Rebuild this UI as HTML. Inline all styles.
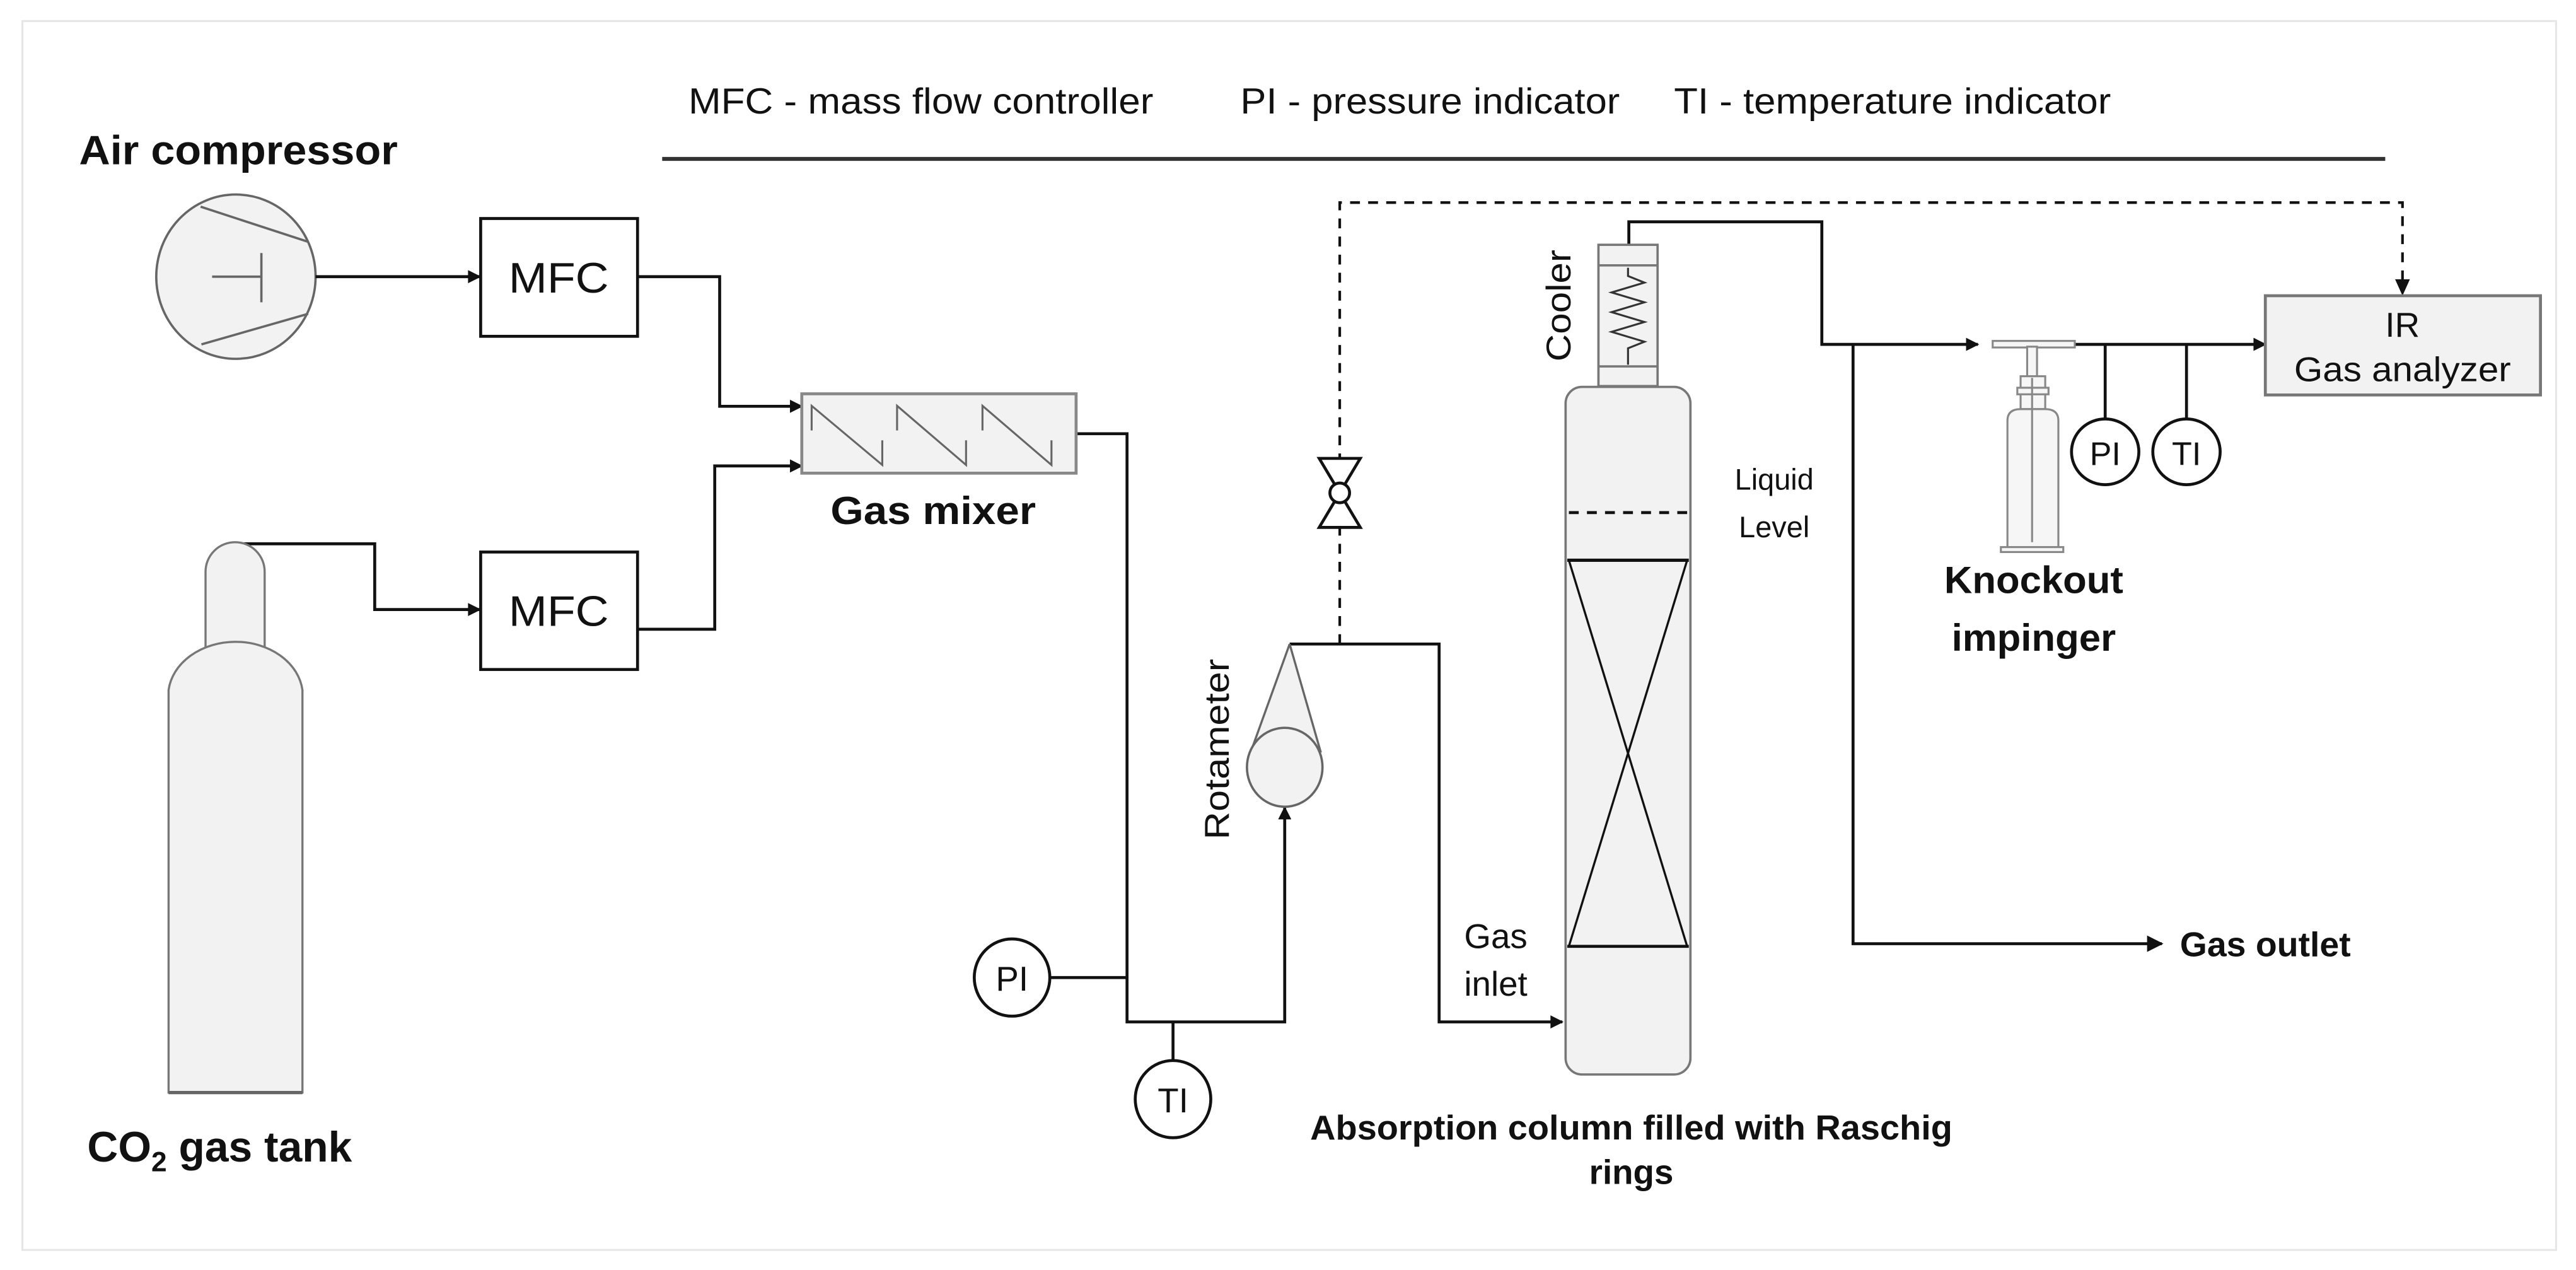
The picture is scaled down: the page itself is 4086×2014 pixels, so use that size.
<!DOCTYPE html>
<html><head><meta charset="utf-8"><style>
html,body{margin:0;padding:0;background:#fff;}
svg{display:block;}
text{font-family:"Liberation Sans",Arial,sans-serif;fill:#111;}
.b{font-weight:bold;}
</style></head><body>
<svg width="4086" height="2014" viewBox="0 0 1568 773" xmlns="http://www.w3.org/2000/svg">
<defs>
<marker id="ar" viewBox="0 0 10 10" refX="9" refY="5" markerWidth="9" markerHeight="8" markerUnits="userSpaceOnUse" orient="auto"><path d="M0,0 L10,5 L0,10 z" fill="#111"/></marker>
<marker id="ar2" viewBox="0 0 10 10" refX="9" refY="5" markerWidth="10" markerHeight="10" markerUnits="userSpaceOnUse" orient="auto"><path d="M0,0 L10,5 L0,10 z" fill="#111"/></marker>
</defs>
<rect x="13.5" y="12.8" width="1542.5" height="748" fill="#fff" stroke="#e6e6e6" stroke-width="1.2"/>

<!-- legend -->
<text x="419" y="69" font-size="22" textLength="283" lengthAdjust="spacingAndGlyphs">MFC - mass flow controller</text>
<text x="755" y="69" font-size="22" textLength="231" lengthAdjust="spacingAndGlyphs">PI - pressure indicator</text>
<text x="1019" y="69" font-size="22" textLength="266" lengthAdjust="spacingAndGlyphs">TI - temperature indicator</text>
<line x1="403" y1="96.7" x2="1452" y2="96.7" stroke="#333" stroke-width="2.4"/>

<!-- air compressor -->
<text class="b" x="48" y="100" font-size="25" textLength="194" lengthAdjust="spacingAndGlyphs">Air compressor</text>
<ellipse cx="143.5" cy="168.4" rx="48.5" ry="50" fill="#f2f2f2" stroke="#666" stroke-width="1.4"/>
<line x1="122" y1="125.8" x2="187.5" y2="147.2" stroke="#666" stroke-width="1.4"/>
<line x1="122.5" y1="209.6" x2="187.5" y2="191" stroke="#666" stroke-width="1.4"/>
<line x1="129" y1="168.4" x2="159" y2="168.4" stroke="#666" stroke-width="1.4"/>
<line x1="159" y1="154" x2="159" y2="184" stroke="#666" stroke-width="1.4"/>

<g stroke="#111" stroke-width="1.8" fill="none">
<line x1="192" y1="168.4" x2="292" y2="168.4" marker-end="url(#ar)"/>
<polyline points="388,168.4 438,168.4 438,247.3 488,247.3" marker-end="url(#ar)"/>
<polyline points="388,383 435,383 435,283.6 488,283.6" marker-end="url(#ar)"/>
<polyline points="144,331 228,331 228,371 292,371" marker-end="url(#ar)"/>
<polyline points="655,264 686,264 686,622 782,622 782,491.5" marker-end="url(#ar)"/>
<line x1="639" y1="595" x2="686" y2="595"/>
<line x1="714" y1="622" x2="714" y2="646"/>
<polyline points="785,392 876,392 876,622 951,622" marker-end="url(#ar)"/>
<polyline points="991.5,149 991.5,135 1109,135 1109,209.6 1204,209.6" marker-end="url(#ar)"/>
<polyline points="1128,209.6 1128,574.4 1316,574.4" marker-end="url(#ar2)"/>
<line x1="1263" y1="209.6" x2="1379" y2="209.6" marker-end="url(#ar)"/>
<line x1="1281.5" y1="209.6" x2="1281.5" y2="255"/>
<line x1="1331" y1="209.6" x2="1331" y2="255"/>
</g>

<!-- MFC boxes -->
<rect x="292.5" y="133" width="95.5" height="71.7" fill="#fff" stroke="#111" stroke-width="1.8"/>
<text x="340" y="178" font-size="26" text-anchor="middle" textLength="61" lengthAdjust="spacingAndGlyphs">MFC</text>
<rect x="292.5" y="336" width="95.5" height="71.5" fill="#fff" stroke="#111" stroke-width="1.8"/>
<text x="340" y="381" font-size="26" text-anchor="middle" textLength="61" lengthAdjust="spacingAndGlyphs">MFC</text>

<!-- gas mixer -->
<rect x="488" y="239.7" width="167" height="48.3" fill="#f2f2f2" stroke="#888" stroke-width="1.8"/>
<g stroke="#666" stroke-width="1.2" fill="none">
<polyline points="494,262 494,247 537,283 537,268"/>
<polyline points="546,262 546,247 588,283 588,268"/>
<polyline points="598,262 598,247 640,283 640,268"/>
</g>
<text class="b" x="568" y="319" font-size="24" text-anchor="middle" textLength="125" lengthAdjust="spacingAndGlyphs">Gas mixer</text>

<!-- CO2 tank -->
<path d="M125,400 L125,348 A18,18 0 0 1 161,348 L161,400 Z" fill="#f2f2f2" stroke="#777" stroke-width="1.3"/>
<path d="M102.5,665 L102.5,420 A41,33 0 0 1 184,420 L184,665 Z" fill="#f2f2f2" stroke="#777" stroke-width="1.3"/>
<line x1="102.5" y1="665" x2="184" y2="665" stroke="#666" stroke-width="2"/>
<text class="b" x="53" y="707" font-size="26">CO<tspan font-size="17" dy="6">2</tspan><tspan dy="-6"> gas tank</tspan></text>

<!-- PI / TI left -->
<ellipse cx="616" cy="595" rx="23" ry="23.5" fill="#fff" stroke="#111" stroke-width="1.8"/>
<text x="616" y="603" font-size="21" text-anchor="middle">PI</text>
<ellipse cx="714" cy="669" rx="23" ry="23.5" fill="#fff" stroke="#111" stroke-width="1.8"/>
<text x="714" y="677" font-size="21" text-anchor="middle">TI</text>

<!-- rotameter -->
<text x="0" y="0" font-size="21" text-anchor="middle" transform="translate(748,456) rotate(-90)" textLength="110" lengthAdjust="spacingAndGlyphs">Rotameter</text>
<path d="M785,392 L761,458 L804,456 Z" fill="#f2f2f2" stroke="none"/>
<line x1="785" y1="392" x2="760.5" y2="460" stroke="#666" stroke-width="1.3"/>
<line x1="785" y1="392" x2="804" y2="458" stroke="#666" stroke-width="1.3"/>
<ellipse cx="782" cy="467" rx="23" ry="24" fill="#f2f2f2" stroke="#666" stroke-width="1.4"/>

<!-- dashed signal -->
<g stroke="#111" stroke-width="1.6" fill="none" stroke-dasharray="6,5">
<polyline points="815.5,392 815.5,123.3 1462.5,123.3 1462.5,178"/>
</g>
<path d="M1458,170 L1462.5,180 L1467,170 Z" fill="#111"/>
<g stroke="#111" stroke-width="1.8" fill="#fff">
<path d="M803,279 L828,279 L815.5,300 Z"/>
<path d="M803,321 L828,321 L815.5,300 Z"/>
<circle cx="815.5" cy="300" r="6"/>
</g>

<!-- IR analyzer -->
<rect x="1379" y="180" width="167.5" height="60.4" fill="#f2f2f2" stroke="#777" stroke-width="1.8"/>
<text x="1462.5" y="205" font-size="21" text-anchor="middle">IR</text>
<text x="1462.5" y="232" font-size="21" text-anchor="middle" textLength="132" lengthAdjust="spacingAndGlyphs">Gas analyzer</text>

<!-- cooler -->
<text x="0" y="0" font-size="21" text-anchor="middle" transform="translate(956,186) rotate(-90)" textLength="68" lengthAdjust="spacingAndGlyphs">Cooler</text>
<rect x="973" y="149" width="36" height="86" fill="#f2f2f2" stroke="#777" stroke-width="1.4"/>
<line x1="973" y1="161.5" x2="1009" y2="161.5" stroke="#777" stroke-width="1.4"/>
<line x1="973" y1="223" x2="1009" y2="223" stroke="#777" stroke-width="1.4"/>
<polyline points="991,163 991,168 1001,172 981,178 1001,184 981,190 1001,196 981,202 1001,208 991,212 991,222" fill="none" stroke="#333" stroke-width="1.2"/>

<!-- column -->
<rect x="953" y="235.5" width="76" height="418.5" rx="10" ry="10" fill="#f2f2f2" stroke="#777" stroke-width="1.4"/>
<line x1="955" y1="312" x2="1027" y2="312" stroke="#111" stroke-width="1.8" stroke-dasharray="6,5"/>
<line x1="954" y1="341" x2="1028" y2="341" stroke="#111" stroke-width="2"/>
<line x1="954" y1="576" x2="1028" y2="576" stroke="#111" stroke-width="1.8"/>
<line x1="955" y1="341" x2="1027" y2="576" stroke="#111" stroke-width="1.3"/>
<line x1="1027" y1="341" x2="955" y2="576" stroke="#111" stroke-width="1.3"/>
<text x="1080" y="298" font-size="18" text-anchor="middle" fill="#333">Liquid</text>
<text x="1080" y="327" font-size="18" text-anchor="middle" fill="#333">Level</text>
<text x="910.5" y="577" font-size="21" text-anchor="middle">Gas</text>
<text x="910.5" y="606" font-size="21" text-anchor="middle">inlet</text>
<text class="b" x="993" y="693.5" font-size="21" text-anchor="middle" textLength="391" lengthAdjust="spacingAndGlyphs">Absorption column filled with Raschig</text>
<text class="b" x="993" y="720.6" font-size="21" text-anchor="middle">rings</text>

<!-- impinger -->
<g stroke="#888" stroke-width="1.2" fill="#f6f6f6">
<rect x="1213" y="207.5" width="50" height="4"/>
<rect x="1234" y="211" width="6" height="18"/>
<rect x="1230" y="229" width="15" height="20"/>
<rect x="1228" y="236" width="19" height="4"/>
<path d="M1222,333 L1222,256 Q1222,249 1230,249 L1245,249 Q1253,249 1253,256 L1253,333 Z"/>
<line x1="1237" y1="230" x2="1237" y2="330"/>
<rect x="1218" y="333" width="38" height="3"/>
</g>
<text class="b" x="1238" y="361" font-size="23" text-anchor="middle" textLength="109" lengthAdjust="spacingAndGlyphs">Knockout</text>
<text class="b" x="1238" y="396" font-size="23" text-anchor="middle" textLength="100" lengthAdjust="spacingAndGlyphs">impinger</text>

<ellipse cx="1281.5" cy="275" rx="20.5" ry="20" fill="#fff" stroke="#111" stroke-width="1.8"/>
<text x="1281.5" y="283" font-size="20" text-anchor="middle">PI</text>
<ellipse cx="1331" cy="275" rx="20.5" ry="20" fill="#fff" stroke="#111" stroke-width="1.8"/>
<text x="1331" y="283" font-size="20" text-anchor="middle">TI</text>

<text class="b" x="1327" y="582" font-size="21" textLength="104" lengthAdjust="spacingAndGlyphs">Gas outlet</text>
</svg>
</body></html>
